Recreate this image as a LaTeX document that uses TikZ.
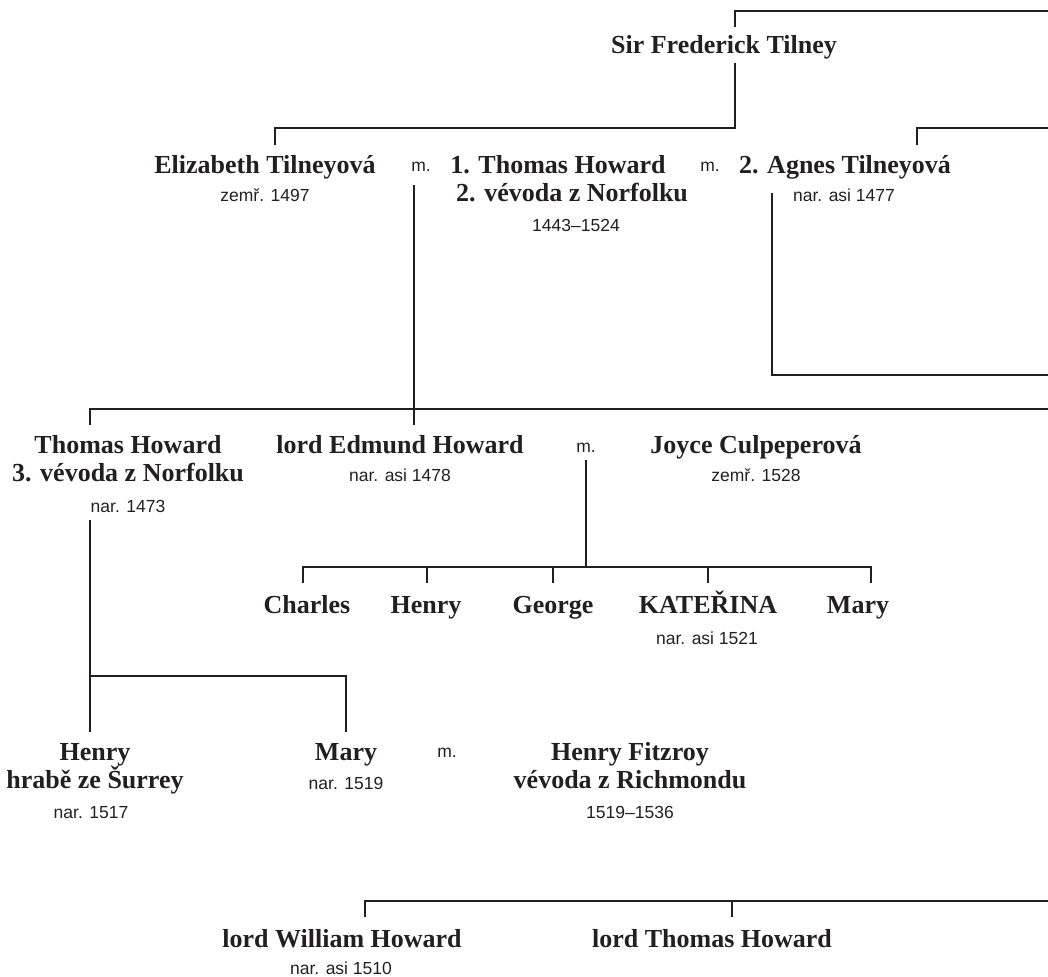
\documentclass[tikz,border=0pt]{standalone}
\usepackage{fontspec}
\setmainfont{Liberation Serif}
\newfontfamily\datefont{Liberation Sans}
\usetikzlibrary{calc}
\definecolor{ink}{HTML}{231F20}
\newcommand{\twolines}[2]{\begin{tabular}[t]{@{}c@{}}#1\\#2\end{tabular}}

\begin{document}
\begin{tikzpicture}
  [x=0.5pt,y=-0.5pt,color=ink,line width=1.2pt,
   every node/.style={anchor=base,text=ink},
   person/.style={font=\fontsize{13}{14.25}\selectfont\bfseries},
   born/.style={font=\datefont\fontsize{8.75}{10}\selectfont},
   wed/.style={born}]
  \useasboundingbox (0,0) rectangle (1048,976);

  % Tilney
  \node[person] (fred) at (724,53) {Sir Frederick Tilney};
  \node[person] (eliz) at (265,173) {Elizabeth Tilneyová};
  \node[born] (elizd) at (265,201) {zemř. 1497};
  \node[wed] (m1) at (421,171) {m.};
  \node[person] (tho2) at (572,173) {\twolines{\llap{1. }Thomas Howard}{2. vévoda z Norfolku}};
  \node[born] (tho2d) at (576,231) {1443–1524};
  \node[wed] (m2) at (710,171) {m.};
  \node[person] (agn) at (845,173) {2. Agnes Tilneyová};
  \node[born] (agnd) at (844,201) {nar. asi 1477};

  % Howard
  \node[person] (tho3) at (128,453) {\twolines{Thomas Howard}{3. vévoda z Norfolku}};
  \node[born] (tho3d) at (128,512) {nar. 1473};
  \node[person] (edm) at (400,453) {lord Edmund Howard};
  \node[born] (edmd) at (400,481) {nar. asi 1478};
  \node[wed] (m3) at (586,452) {m.};
  \node[person] (joy) at (756,453) {Joyce Culpeperová};
  \node[born] (joyd) at (756,481) {zemř. 1528};

  \node[person] (cha) at (307,613) {Charles};
  \node[person] (hen) at (426,613) {Henry};
  \node[person] (geo) at (553,613) {George};
  \node[person] (kat) at (708,613) {KATEŘINA};
  \node[person] (mar) at (858,613) {Mary};
  \node[born] (katd) at (707,644) {nar. asi 1521};

  \node[person] (hsur) at (95,760) {\twolines{Henry}{\smash{hrabě ze Šurrey}}};
  \node[born] (hsurd) at (91,818) {nar. 1517};
  \node[person] (mry) at (346,760) {Mary};
  \node[born] (mryd) at (346,789) {nar. 1519};
  \node[wed] (m4) at (447,757) {m.};
  \node[person] (fitz) at (630,760) {\twolines{Henry Fitzroy}{vévoda z Richmondu}};
  \node[born] (fitzd) at (630,818) {1519–1536};

  \node[person] (wil) at (342,947) {lord William Howard};
  \node[born] (wild) at (341,974) {nar. asi 1510};
  \node[person] (tom) at (712,947) {lord Thomas Howard};

  % lines running off the right edge
  \coordinate (r1) at (1048,11);
  \coordinate (r2) at (1048,128);
  \coordinate (r3) at (1048,375);
  \coordinate (r4) at (1048,409);
  \coordinate (r5) at (1048,901);
  \coordinate (j1) at (735,128);
  \coordinate (kids) at (586,567);

  \draw ($(fred.base)+(11,-26)$) |- (r1);
  \draw ($(fred.base)+(11,10)$) -- (j1) -| ($(eliz.base)+(10,-28)$);
  \draw (r2) -| ($(agn.base)+(72,-28)$);
  \draw ($(agn.base)+(-73,20)$) |- (r3);
  \draw ($(m1.base)+(-7,14)$) -- ($(edm.base)+(14,-28)$);
  \draw ($(tho3.base)+(-38,-28)$) |- (r4);

  \draw ($(m3.base)+(0,8)$) -- (kids);
  \draw ($(cha.base)+(-4,-30)$) |- (kids) -| ($(mar.base)+(13,-30)$);
  \foreach \kid/\dx in {hen/1,geo/0,kat/0}
    \draw ($(\kid.base)+(\dx,-30)$) -- ($(\kid.base)+(\dx,-46)$);

  \draw ($(tho3d.base)+(-38,8)$) -- ($(hsur.base)+(-5,-28)$);
  \draw ($(hsur.base)+(-5,-84)$) -| ($(mry.base)+(0,-28)$);

  \draw ($(wil.base)+(23,-30)$) |- (r5);
  \draw ($(tom.base)+(20,-30)$) -- ($(tom.base)+(20,-46)$);

\end{tikzpicture}
\end{document}
